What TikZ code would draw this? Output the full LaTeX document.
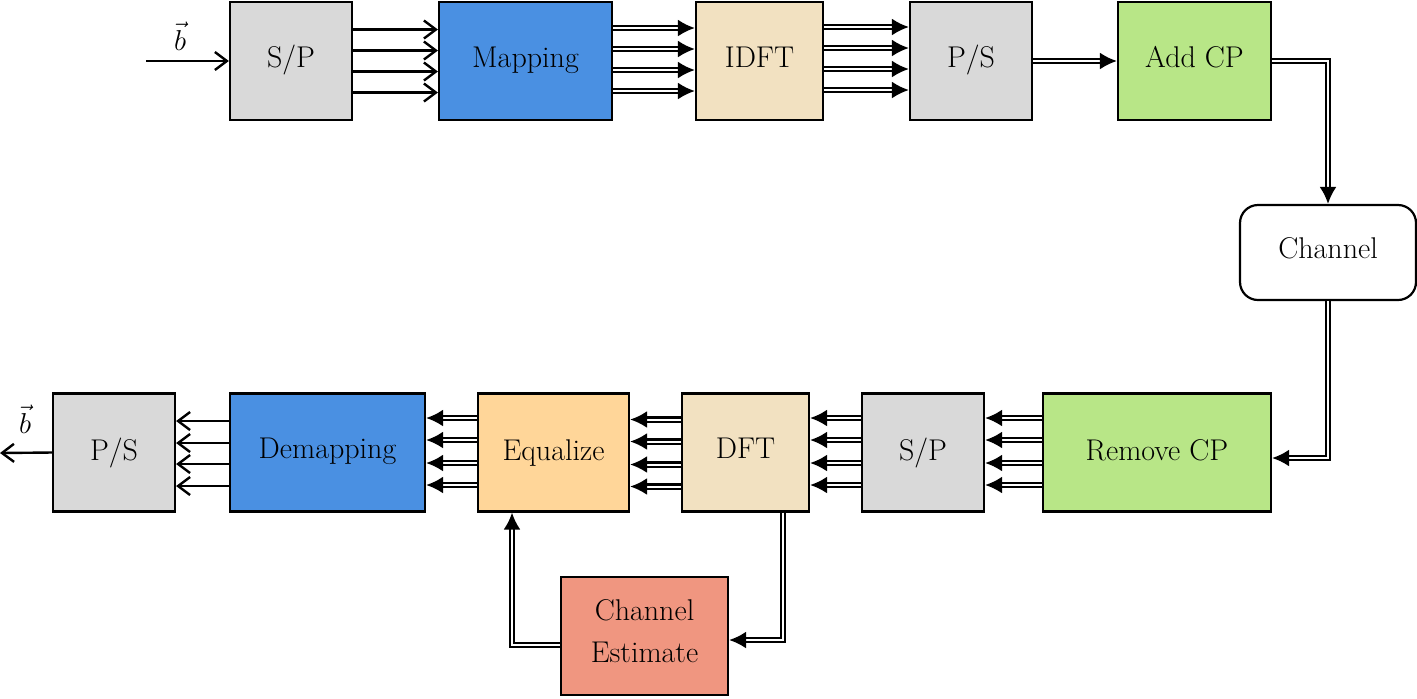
\documentclass[tikz,border=0pt]{standalone}
\usetikzlibrary{arrows.meta,calc}
\definecolor{cgray}{RGB}{217,217,217}
\definecolor{cblue}{RGB}{74,144,226}
\definecolor{cbeige}{RGB}{242,225,193}
\definecolor{cgreen}{RGB}{184,230,135}
\definecolor{corange}{RGB}{255,214,153}
\definecolor{csalmon}{RGB}{240,150,128}
\begin{document}
\begin{tikzpicture}[x=0.5pt,y=-0.5pt,
  box/.style={draw=black,line width=1.1pt,rectangle,minimum height=59pt,inner sep=0pt,
    font=\fontsize{15}{21}\selectfont,align=center,text height=10pt},
  up/.style={text depth=3.8pt},
  dn/.style={text depth=2pt},
  sarr/.style={line width=1.2pt,-{Straight Barb[length=6pt,width=9pt,line width=1.2pt]}},
  darr/.style={double,double distance=1pt,line width=1.2pt,-{Latex[length=8.5pt,width=8.5pt]}},
  lbl/.style={font=\fontsize{15}{18}\selectfont}]
\useasboundingbox (0,0) rectangle (1417,698);
% top row
\node[box,up,fill=cgray,minimum width=61pt] (sp1) at (291,61) {S/P};
\node[box,up,fill=cblue,minimum width=86.5pt] (map) at (525.5,61) {Mapping};
\node[box,up,fill=cbeige,minimum width=63.5pt] (idft) at (759.5,61) {IDFT};
\node[box,up,fill=cgray,minimum width=61pt] (ps1) at (971,61) {P/S};
\node[box,up,fill=cgreen,minimum width=76.5pt] (add) at (1194.5,61) {Add CP};
\node[box,up,fill=white,minimum width=88pt,minimum height=47.5pt,rounded corners=9pt] (ch) at (1328,252.5) {Channel};
% bottom row
\node[box,dn,fill=cgray,minimum width=61pt] (ps2) at (114,452.5) {P/S};
\node[box,up,fill=cblue,minimum width=97.5pt] (dem) at (327.5,452.5) {Demapping};
\node[box,dn,fill=corange,minimum width=75.5pt] (eq) at (553.5,452.5) {Equalize};
\node[box,up,fill=cbeige,minimum width=63.5pt] (dft) at (745.5,452.5) {DFT};
\node[box,dn,fill=cgray,minimum width=61pt] (sp2) at (923,452.5) {S/P};
\node[box,dn,fill=cgreen,minimum width=114pt] (rem) at (1157,452.5) {Remove CP};
\node[box,fill=csalmon,minimum width=83.5pt,minimum height=59pt] (ce) at (644.5,636) {};
\node[lbl,align=center,font=\fontsize{15}{21}\selectfont] (cet) at (644.5,631) {Channel\\Estimate};
% input / output
\coordinate (in) at (146,61);
\coordinate (out) at (0,453);
\node[lbl] (bin) at (180,36) {$\vec{b}$};
\node[lbl] (bout) at (25,419) {$\vec{b}$};
\draw[sarr] (in) -- (sp1.west);
\draw[sarr] (ps2.west) -- (out);
% top multi arrows
\foreach \o in {-31.5,-10.5,10.5,31.5}{
  \draw[sarr] ($(sp1.east)+(0,\o)$) -- ($(map.west)+(0,\o)$);}
\foreach \o in {-33,-12,9,30}{
  \draw[darr] ($(map.east)+(0,\o)$) -- ($(idft.west)+(0,\o)$);
  \draw[darr] ($(idft.east)+(0,\o-1)$) -- ($(ps1.west)+(0,\o-1)$);}
\draw[darr] (ps1.east) -- (add.west);
\draw[darr] (add.east) -| (ch.north);
\draw[darr] (ch.south) |- ($(rem.east)+(0,5.5)$);
% bottom multi arrows
\foreach \o in {-34.5,-12.5,10.5,32.5}{
  \draw[darr] ($(rem.west)+(0,\o)$) -- ($(sp2.east)+(0,\o)$);
  \draw[darr] ($(sp2.west)+(0,\o)$) -- ($(dft.east)+(0,\o)$);
  \draw[darr] ($(dft.west)+(0,\o+1.5)$) -- ($(eq.east)+(0,\o+1.5)$);
  \draw[darr] ($(eq.west)+(0,\o)$) -- ($(dem.east)+(0,\o)$);}
\foreach \o in {-31.5,-9.5,11.5,33.5}{
  \draw[sarr] ($(dem.west)+(0,\o)$) -- ($(ps2.east)+(0,\o)$);}
% channel estimate loop
\draw[darr] ($(dft.south)+(37.5,0)$) |- ($(ce.east)+(0,4)$);
\draw[darr] ($(ce.west)+(0,9)$) -| ($(eq.south)+(-41.5,0)$);
\end{tikzpicture}
\end{document}
